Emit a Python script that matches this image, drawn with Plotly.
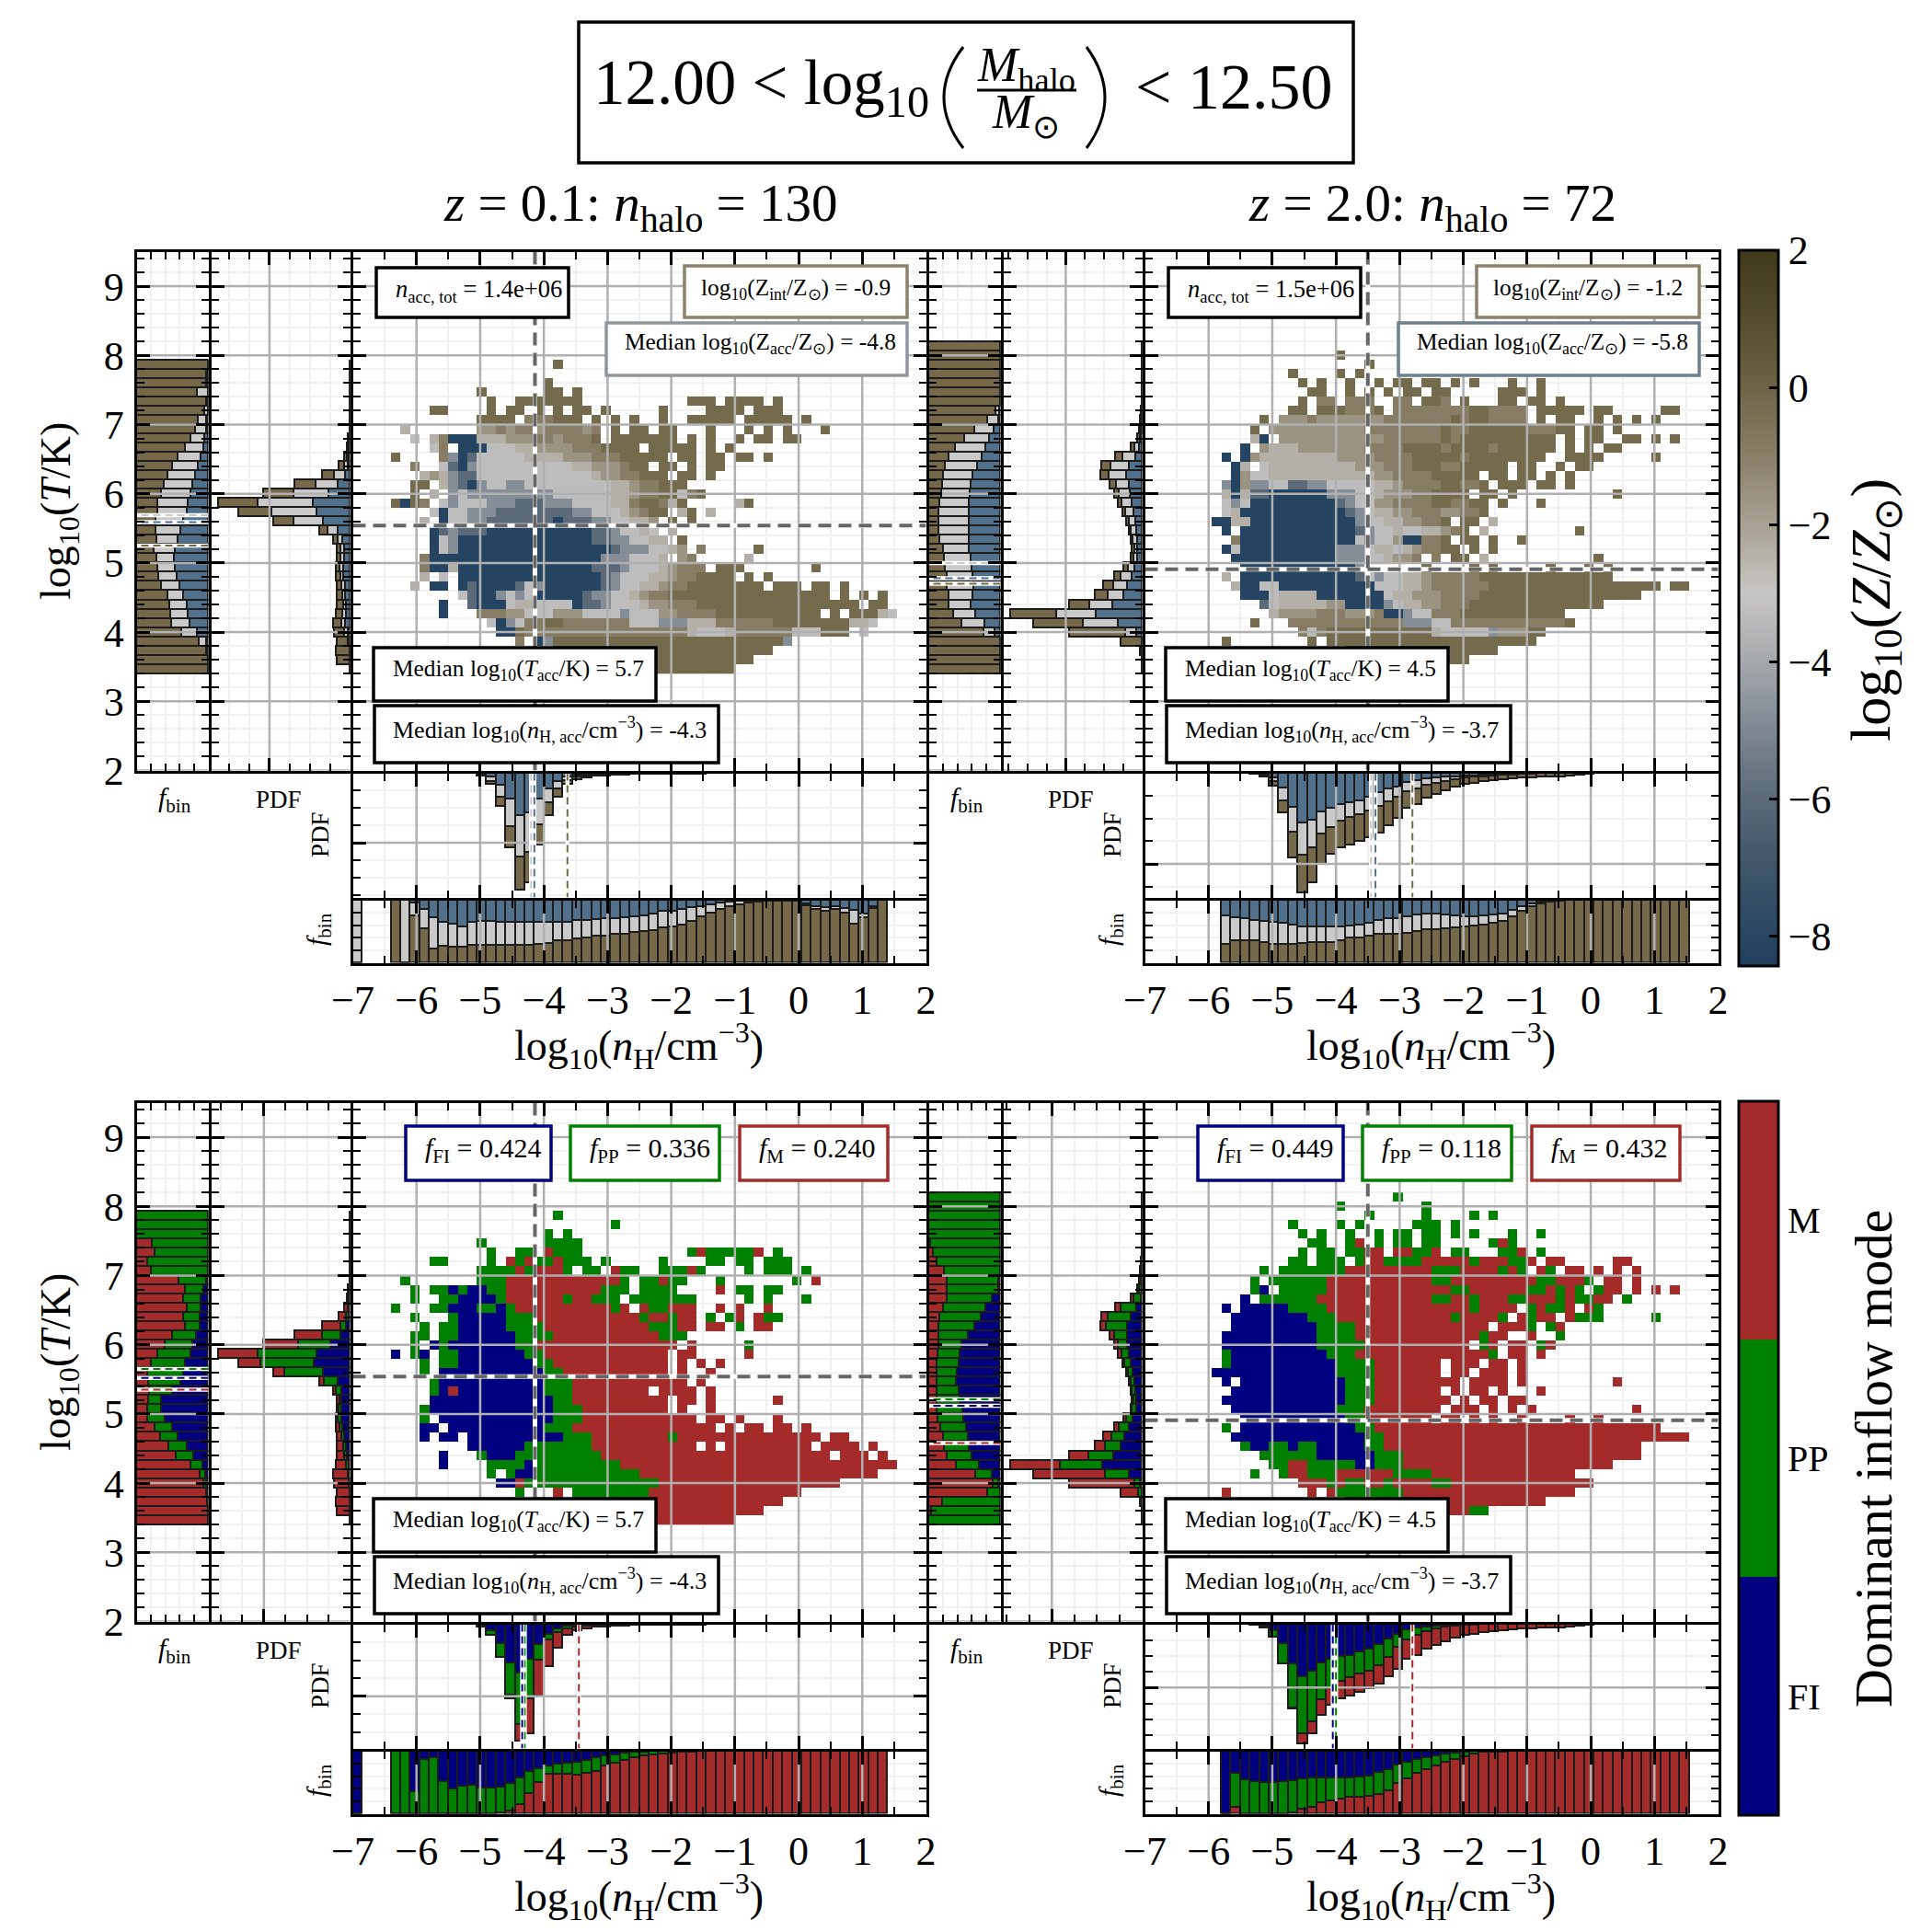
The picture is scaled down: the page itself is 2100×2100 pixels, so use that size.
import numpy as np
import plotly.graph_objects as go

FONT = "Liberation Serif"
W = 2100

# colours
OUTER_Z, MID_Z, INNER_Z = "#75694a", "#c9c9c9", "#50708c"
OUTER_M, MID_M, INNER_M = "#a52a2a", "#008000", "#000080"
Z_SCALE = [[-8.43, "#1f4060"], [-7, "#3d5668"], [-6, "#5a6a78"], [-5, "#7d8791"], [-4, "#a5a8ac"],
           [-3, "#c8c6c4"], [-2, "#a8a294"], [-1, "#8a8068"], [0, "#6e6445"], [1, "#544c2c"], [2, "#3f3a18"]]
Z_LEVELS = [-8.2, -6.0, -4.8, -3.3, -2.4, -1.6, -0.9, -0.2]
MODE_LEVELS = {"F": 0.5, "P": 1.5, "M": 2.5}

# 2D maps: rows top to bottom (logT 8.13 down to 3.47), columns from lognH = -6.4 in steps of 0.15
Z_LO = [
    "", "",
    ".................7", "", "................7",
    ".........7......77.7",
    "..........7..7777777...........777.7777.7",
    "....77....7.77.7.7.77.7.....7....7777.777",
    ".........7777.666777.7.7.7..7..77777.77777.7",
    ".4.......5565665666656.7.77.77...7...7.7.7...7",
    "..3.460004445556656667.7777777.7.7..7.77.77",
    "....36.0003334455556667777.77777.7.7",
    "7....620133333444455566677777.77.77.77.7",
    "..6..3102333333333344555677.77.7.77",
    "...45421133333333333345566777.77.7",
    "..77.42102332233333333344566777",
    "..7.4.232222222223333334456677367",
    "7076.32333222111222333344677647.....47",
    "....3033222111111112233345677.47.4",
    "...4.03322111111101112233445.7.7",
    "....012111000000000001123343.4",
    "....0320000000000000011223344.7",
    "....032000000000000000012223345.6.....7",
    "...60000000000000000002223334 56.....4",
    "...600400000000000000111233345666 777.......7",
    "...4.3.00000000000000012333445667777.7.7",
    "..4.00.01000013200000012334456677777777.777.77.7",
    ".......310023230000012233456677777777777777777.7.7.7",
    ".....0..10003443333011233345566677777777777777777.77",
    ".....0...666553335553333233355666677777777777.7.7774330077",
    "..........30236677666666633322244466666677777777443",
    "...........0076666666666666666643334666666333777.3",
    ".............6.027777777777777777777777772",
    ".................77777777777777777777777",
    "..................77777777777777777777",
    "......................77777777777777",
]
Z_HI = [
    "", "................7",
    "...................7",
    "...........7....7.7",
    "............7.7..7..7.77.77.7.7...7..7",
    ".............77..7.7.7.77.77.....777.7",
    "............7.66.666..66.776.7...77.77.7",
    "...........77.7776667.66666666776666.77777.77.....77",
    "........7.55565555555666666676776666.7.77..7.7.7.7",
    ".......7.55555555556666666676677777766677.77.7",
    ".......40.55555555555666666767777777777.7.77..77.7.7",
    "......0.5444555555566667777677776777777.7.7.77",
    "....0.05444444445555666677777677777777..7777.....7",
    ".....04.34444444445556667776677777.77..7.77",
    ".....05334444444444455666677777.77.77.7.7",
    "....2052233112233333445666677667.777.77.7",
    "....40411000000222334555667777.77.7..........7",
    "....3230000000001233556666776677.7...7",
    "....3400000000000123445566655667",
    "...0044000000000002334455667 77.4",
    "....0.000000000000123343344567.4.........7",
    ".....60000000000003233500667.77.7..7",
    "....0300000000002223443456677.7.7",
    ".....00000000000222334556.6.77.4...........7",
    "......0000000000002......7....7.7.....7...7.7",
    "....4.000000000000132334456666677777777777777",
    ".....400330000000000333445666666777777777777777777.77",
    "......000344440000000344555666677777777777777777",
    "........134444455000023445566677777777777777",
    ".........4555566655560023366677777777777",
    ".......7...666666666666222336666666666667",
    "............63677777777777433333255577",
    "....7........7.7777777777777777777777",
    ".................7777777777777777",
    "....................7777777777",
    "",
]
M_LO = [
    "", "",
    ".................P", ".......................P", "................P.P",
    ".........P......PPPP",
    "..........P..PP.MPPP...........PMPPPPPM.P",
    "....PP....P.MPMPPMPPP.P.....P....PP.PP.PPP",
    ".........PPPPMPMMMP.PP.MPP..PPPMP....P.PPP.P",
    ".P.......PPPMMMMMMMMMMMMP.PPMPP...P.......P.M",
    "..P.PPFPFFPPMMMMMMMMMMPPP.PPPP....M.PP.PP",
    "..P..PPFFFFPMMMMMMPMMPPP.PPPPPPP.....P.P...P",
    "P...PPFFFPPFPMMMMMMMMMMPM.MPPMMM..M.M..M",
    "..P...PFFFFFPPPMMMMMMMMMMMPMMPMM.P.PM.MPP",
    "...P.PPFFFFFPPPPMMMMMMMMMMMPPPMM.MM.P.MM",
    "..PP.PPFFFFFFPPPPMMMMMMMMMMMPPP...",
    "..P.FPFFFFFFFPPMMMMMMMMMMMMMMM.M.....P",
    "F.PF.PPFFFFFFFPPMMMMMMMMMMMMM.MM.....M",
    "...P.PPFFFFFFFFPPMMMMMMMMMMMM.M.M.M",
    "...P.FFFFFFFFFFFPPMMMMMMMMMMM.M..M",
    "....PFFFFFFFFFFFPPPMMMMMMMMMMMM.M",
    "....PFMFFFFFFFFFPPPMMMMMMMM.MMMM.M",
    "....FFFFFFFFFFFFFPPMMMMMMMMMM.MM.M......M",
    "...PFFFFFFFFFFFFFPPPMMMMMMMMM.M..M",
    "...P.FFFFFFFFFFFFPPPMMMMMMMMMMMM.MM.M...M",
    "...FF.FFFFFFFFFFPPPMMMMMMMMMMMMMMM.M.MM.MM.M",
    "...F.FF.FFFFFFFFFFPPPMMMMMMMMPMMMMMMMMMMMMMMM.MM",
    "........FFFFFFPPPPPPPMMMMMMMMMMM.M.MMMMMMMMM.MMMM.M",
    ".....F...PFFFPPPPPPPPPMMMMMMMMMMMMMMMMMMMMMMMM.MMM.M",
    ".....F....PPPPFPPPPPPPPPMMMMMMMMMMMMMMMMMMMMMMMMMMMMM",
    "..........P.PFFPPPPPPPPPPPMMMMMMMMMMMMMMMMMMMMMMMMM",
    "...........FFMPPPPPPPPPPPPPPMMMMMMMMMMMMMMMMMMM",
    ".............P...M.PPPPPPPPMMMMMMMMMMMMMMMM",
    ".................M.MPPPPPPMMMMMMMMMMMMMMM",
    ".....................MMMMMMMMMMMMMMMMMM",
    "......................MMMMMMMMMMMMMM",
]
M_HI = [
    "......................P", "................P........P",
    "...................P.....P....P.P",
    "...........P....P.P.....PPP.P",
    "............P.P..P..P.PP.PP.P.P...P..P",
    ".............PP..PM.P.PP.PP.....PMP",
    "............P.PP.PPMM.MMPPM.PP...PPM.P",
    "...........PP.PPP.PMMPPPPMMMMMPMMMPPM.MM.....MM",
    "........P.PPPPPPPMMMMMMMMMPPPMMMMPMP.MP.MM.M.M.M",
    ".......P.PPPPPPMMMMMMMMMMMPPMMMMMMMMMPPMMMP.MM.M",
    ".......PF.PPPPPMMMMMMMMMMMMMPPMMMMMMPPMPMP.PMM.M.M.M",
    "......F.PPPPPPMMMMMMMMMMMMPPMMPMMMPPMMMPMPPMM.P",
    "....F.FFFFFPPPPMMMMMMMMMMMMMMMPMMMM.PMPPM.MP",
    ".....FFFFFFFFPPPMMMMMMMMMMMMPMMMMP.MPMM.MPPP.....P",
    ".....FFFFFFFFFPPPPMMMMMMMMMMMMMM.MMMP.PM",
    "....FFFFFFFFFFPPPPMMMMMMMMMMMMMPMM..M..P",
    "....FFFFFFFFFFPPPPPMMMMMMMMMMM.PM.MM.PM",
    "....PFFFFFFFFFFPPPMMMMMMMMMMMMMMP.MM.M",
    "....PFFFFFFFFFFFPPPPMMMMMMM.MMM.MM.M",
    "...FFFFFFFFFFFFFPPPPMMMMMMM.MM.MMM.M",
    "....F.FFFFFFFFFFFPPPMMMMMMMMM.MMMM.M.........M",
    ".....FFFFFFFFFFFFPPPMMMMMMM.M.MM.M...M",
    "....FFFFFFFFFFFFFPPPMMMMMMMM.M.MM.MM",
    ".....FFFFFFFFFFFPPPMMMMMMMM.MMM.M.M.M..........M",
    "......FFFFFFFFFFFPPMMMMMMM.MM.M.M..M....M..M",
    "....P.FFFFFFFFFFFFPPMMMMMMMMMMMMMMMMMMMMMMMMMMMMMM",
    ".....FFFFFFFFFFFFFFPPMMMMMMMMMMMMMMMMMMMMMMMMMMMMMMMM",
    "......PFFPPFPPFFFFFPPMMMMMMMMMMMMMMMMMMMMMMMMMMM",
    "........PPPPPPFFFFFFPPPMMMMMMMMMMMMMMMMMMMMMMMMM",
    ".........PPMMPPPPPFFPPPMMMMMMMMMMMMMMMMMMMMMM",
    ".......P..PMMPPPMMMMMMPPPPMMMMMMMMMMMMMMM",
    "............MMMPMPPMMPMMMMPPMMMMMMMMMMMMMMM",
    "....M........M.MPPPPPPPMMMMMMMMMMMMMMMMMM",
    ".................PPPPPPMMMMMMMMMMMMMMM",
    "....................MMMMMMMMMMPP",
    "",
]

# lognH side panels: bins from -7.0 in steps of 0.15
PDF_N_LO = [0, 0, 0, 0, 0, 0, 0, 0, 0, 0, 0, 0, 0.3, 2, 9, 27, 60, 94, 88, 58, 34, 19, 9, 5, 3.5, 2.5, 2, 1.5,
            1.2, 1, 1, 1, 0.5, 0.4, 0.4, 0.4, 0.4, 0.3, 0.3, 0.3, 0.2, 0.2]
PDF_N_HI = [0, 0, 0, 0, 0, 0, 0, 0, 0, 0, 0, 0.5, 3, 10, 32, 68, 96, 88, 73, 65, 60, 58, 55, 52, 48, 42, 36, 28,
            25, 20, 17, 14, 11, 9, 8, 7, 6, 5, 4.5, 4, 4, 3, 3, 3, 2, 1.5, 0.5]
N_INNER_LO_Z = [0, None, None, None, 0, 0, 5, 15, 28, 35, 38, 42, 36, 34, 34, 35, 35, 36, 36, 36, 36, 35, 35, 33, 32,
                31, 30, 29, 28, 26, 25, 22, 18, 17, 15, 12, 10, 8, 5, 3, 2, 1, 1, 0, 0, 0, 2, 6, 10, 12, 10, 13, 16, 22, 10, 0]
N_MID_LO_Z = [100, None, None, None, 0, 100, 20, 30, 50, 38, 37, 33, 36, 38, 38, 37, 37, 36, 36, 35, 33, 30, 29, 29, 28,
              27, 28, 26, 26, 26, 25, 26, 26, 25, 24, 22, 17, 13, 10, 7, 5, 3, 2, 2, 1, 1, 0, 3, 5, 6, 5, 7, 22, 6, 3, 0]
N_INNER_HI_Z = [None, None, None, None, None, None, None, None, 25, 28, 30, 32, 34, 36, 37, 40, 42, 43, 43, 43, 42, 41, 40,
                37, 33, 30, 30, 26, 24, 22, 22, 23, 25, 26, 26, 25, 24, 22, 16, 10, 6, 3, 1, 1, 0, 0, 0, 0, 0, 0, 0, 0, 0, 0, 0, 0, 0]
N_MID_HI_Z = [None, None, None, None, None, None, None, None, 45, 37, 35, 33, 33, 34, 33, 30, 27, 25, 24, 24, 22, 20, 20,
              21, 22, 24, 24, 27, 26, 25, 25, 22, 19, 17, 15, 14, 13, 12, 10, 7, 5, 3, 2, 1, 0, 0, 0, 0, 0, 0, 0, 0, 0, 0, 0, 0, 0]
N_INNER_LO_M = [100, None, None, None, 0, 0, 64, 13, 10, 49, 61, 56, 55, 59, 59, 57, 52, 42, 32, 28, 23, 20, 19, 17, 14, 11,
                8, 6, 3, 2, 1, 0, 0, 0, 0, 0, 0, 0, 0, 0, 0, 0, 0, 0, 0, 0, 0, 0, 0, 0, 0, 0, 0, 0, 0, 0]
N_MID_LO_M = [0, None, None, None, 100, 100, 36, 87, 90, 51, 39, 44, 45, 41, 41, 41, 43, 44, 36, 22, 14, 17, 18, 21, 22, 22,
              15, 13, 11, 9, 7, 6, 4, 3, 2, 1, 0, 0, 0, 0, 0, 0, 0, 0, 0, 0, 0, 0, 0, 0, 0, 0, 0, 0, 0, 0]
N_INNER_HI_M = [None, None, None, None, None, None, None, None, 100, 35, 46, 49, 50, 50, 48, 47, 44, 43, 43, 43, 43, 43, 41,
                39, 34, 29, 22, 17, 13, 10, 7, 5, 3, 1, 0, 0, 0, 0, 0, 0, 0, 0, 0, 0, 0, 0, 0, 0, 0, 0, 0, 0, 0, 0, 0, 0, 0]
N_MID_HI_M = [None, None, None, None, None, None, None, None, 0, 55, 54, 51, 50, 50, 52, 52, 48, 46, 40, 37, 34, 31, 32,
              33, 35, 34, 30, 27, 23, 19, 16, 13, 10, 8, 5, 2, 1, 1, 0, 0, 0, 0, 0, 0, 0, 0, 0, 0, 0, 0, 0, 0, 0, 0, 0, 0, 0]

# logT side panels: top to bottom, logT 8.13 down to 3.47
PDF_T_LO = [0, 0, 0, 0, 0, 0, 0, 0, 0, 0, 1, 2, 4, 8, 20, 40, 62, 95, 80, 55, 22, 12, 9, 9, 10, 10, 9, 9, 9, 10, 12, 11, 9, 10, 9, 0]
PDF_T_HI = [0, 0, 0, 0, 0, 0, 0, 0.5, 1, 2, 3, 8, 19, 29, 30, 23, 20, 17, 14, 11, 9, 8, 7, 8, 13, 20, 28, 34, 52, 95, 78, 52, 15, 1, 0, 0]
T_INNER_LO_Z = [None, None, 0, 0, 0, 0, 0, 0, 2, 3, 5, 7, 10, 14, 18, 22, 25, 28, 30, 35, 38, 42, 46, 47, 46, 44, 40, 35, 30, 28, 26, 15, 3, 0, 0, 0]
T_MID_LO_Z = [None, None, 0, 2, 3, 15, 3, 5, 12, 15, 20, 25, 32, 36, 39, 40, 40, 42, 40, 38, 35, 30, 30, 25, 25, 25, 25, 22, 24, 24, 25, 22, 10, 3, 0, 0]
T_INNER_HI_Z = [0, 0, 0, 0, 0, 0, 0, 1, 3, 9, 15, 21, 26, 32, 38, 41, 42, 43, 44, 44, 44, 44, 43, 41, 40, 38, 37, 38, 41, 35, 22, 8, 0, 0, 0, 0]
T_MID_HI_Z = [0, 0, 0, 0, 0, 0, 0, 6, 15, 27, 35, 42, 46, 45, 42, 40, 40, 41, 42, 42, 42, 40, 37, 37, 37, 37, 37, 34, 31, 30, 32, 15, 0, 0, 0, 0]
T_INNER_LO_M = [None, None, 0, 0, 0, 0, 0, 0, 0, 3, 7, 10, 10, 12, 12, 17, 22, 25, 32, 35, 38, 50, 65, 65, 60, 50, 42, 30, 20, 8, 4, 2, 1, 0, 0, 0]
T_MID_LO_M = [None, None, 100, 100, 100, 78, 75, 85, 80, 38, 25, 24, 20, 22, 20, 33, 38, 45, 48, 50, 45, 32, 18, 20, 25, 25, 25, 25, 25, 17, 8, 4, 2, 1, 0, 0]
T_INNER_HI_M = [0, 0, 0, 0, 0, 0, 0, 0, 0, 2, 3, 11, 20, 27, 36, 45, 54, 56, 58, 60, 61, 58, 56, 52, 51, 48, 45, 44, 40, 30, 12, 3, 0, 0, 0, 0]
T_MID_HI_M = [100, 100, 100, 100, 100, 98, 93, 89, 78, 72, 71, 63, 60, 58, 50, 41, 32, 31, 30, 29, 28, 31, 33, 37, 36, 35, 34, 34, 34, 32, 22, 7, 18, 81, 96, 100]

# medians
MED_LINE_N = {"lo": -4.14, "hi": -3.5}
MED_LINE_T = {"lo": 5.54, "hi": 4.91}
MED_T_Z = {"lo": [5.69, 5.59, 5.25], "hi": [5.0, 4.78, 4.7]}
MED_N_Z = {"lo": [-4.2, -4.15, -3.63], "hi": [-3.45, -3.38, -2.8]}
MED_T_M = {"lo": [5.65, 5.52, 5.35], "hi": [5.21, 5.12, 4.58]}
MED_N_M = {"lo": [-4.3, -4.34, -3.45], "hi": [-4.0, -4.05, -2.8]}

TEXT = {
    "lo": {"nacc": "1.4e+06", "zint": "-0.9", "zacc": "-4.8", "tacc": "5.7", "nhacc": "-4.3",
           "fmodes": ["0.424", "0.336", "0.240"], "title": "<i>z</i> = 0.1: <i>n</i><sub>halo</sub> = 130"},
    "hi": {"nacc": "1.5e+06", "zint": "-1.2", "zacc": "-5.8", "tacc": "4.5", "nhacc": "-3.7",
           "fmodes": ["0.449", "0.118", "0.432"], "title": "<i>z</i> = 2.0: <i>n</i><sub>halo</sub> = 72"},
}
PDF_T_MAJOR = {("lo", "z"): 58, ("hi", "z"): 55, ("lo", "m"): 62, ("hi", "m"): 65}
PDF_N_MAJOR = {("lo", "z"): 56, ("hi", "z"): 73, ("lo", "m"): 58, ("hi", "m"): 51}

DT = 2 / 15
T_CENTERS = 8.2 - DT * (np.arange(36) + 0.5)
DN = 0.15
N_CENTERS = -7 + DN * (np.arange(60) + 0.5)

fig = go.Figure()
annotations = []
shapes = []
layout_axes = {}
axis_no = [0]
# the page keeps an 8 px body margin
OFF = 8
LINE = 3


def px(x):
    return (x - OFF) / W


def py(y):
    return 1 - (y - OFF) / W


def new_axes(x0, x1, y0, y1, xa, ya):
    axis_no[0] += 1
    n = axis_no[0]
    s = "" if n == 1 else str(n)
    base = dict(showline=True, linecolor="black", linewidth=LINE, mirror="ticks", zeroline=False,
                showgrid=False, ticks="inside", tickcolor="black", tickwidth=3, ticklen=14,
                showticklabels=False, tickfont=dict(family=FONT, size=44, color="black"))
    xd = dict(base)
    xd.update(xa)
    yd = dict(base)
    yd.update(ya)
    # axis lines sit outside the domain, inset so neighbouring frames share one line
    xd.update(domain=[px(x0 + LINE / 2), px(x1 - LINE / 2)], anchor="y" + s)
    yd.update(domain=[py(y1 - LINE / 2), py(y0 + LINE / 2)], anchor="x" + s)
    layout_axes["xaxis" + s] = xd
    layout_axes["yaxis" + s] = yd
    return "x" + s, "y" + s


def minor(d=None, vals=None):
    m = dict(ticks="inside", ticklen=8, tickwidth=2, tickcolor="black", showgrid=True,
             gridcolor="#f1f1f1", gridwidth=1.5)
    if d is not None:
        m["dtick"] = d
        m["tick0"] = 0
    if vals is not None:
        m["tickvals"] = vals
    return m


def grid_trace(xax, yax, xvals, yvals, xr, yr):
    xs, ys = [], []
    for v in xvals:
        xs += [v, v, None]
        ys += [yr[0], yr[1], None]
    for v in yvals:
        xs += [xr[0], xr[1], None]
        ys += [v, v, None]
    fig.add_trace(go.Scatter(x=xs, y=ys, xaxis=xax, yaxis=yax, mode="lines", hoverinfo="skip",
                             line=dict(color="#b0b0b0", width=2.5), showlegend=False))


def pad(seq, n):
    seq = list(seq)
    return seq + [None] * (n - len(seq))


def stacked(xax, yax, centers, inner, mid, total, colors, horizontal):
    n = len(centers)
    inner, mid = pad(inner, n), pad(mid, n)
    outer = [None if a is None or b is None else 100 - a - b for a, b in zip(inner, mid)]
    total = None if total is None else pad(total, n)
    for fr, col in zip([inner, mid, outer], colors):
        if total is None:
            vals = fr
        else:
            vals = [None if f is None or t is None else f * t / 100 for f, t in zip(fr, total)]
        kw = dict(x=vals, y=centers, orientation="h") if horizontal else dict(x=centers, y=vals)
        fig.add_trace(go.Bar(xaxis=xax, yaxis=yax, width=(DT if horizontal else DN), showlegend=False,
                             marker=dict(color=col, line=dict(color="#1c1c1c", width=1.2)), hoverinfo="skip", **kw))


def med_lines(xax, yax, vals, colors, horizontal):
    for v, c in zip(vals, colors):
        pts = dict(x=[0, 100], y=[v, v]) if horizontal else dict(x=[v, v], y=[0, 100])
        fig.add_trace(go.Scatter(xaxis=xax, yaxis=yax, mode="lines", hoverinfo="skip", showlegend=False,
                                 line=dict(color="white", width=4.5), **pts))
        fig.add_trace(go.Scatter(xaxis=xax, yaxis=yax, mode="lines", hoverinfo="skip", showlegend=False,
                                 line=dict(color=c, width=2, dash="8px,5px"), **pts))


def box(x0, x1, y0, y1, color):
    shapes.append(dict(type="rect", xref="paper", yref="paper", x0=px(x0), x1=px(x1), y0=py(y1), y1=py(y0),
                       fillcolor="white", line=dict(color=color, width=3.5), layer="above"))


def label(x, y, text, size=25.4, xanchor="left", angle=0):
    annotations.append(dict(x=px(x), y=py(y), xref="paper", yref="paper", text=text, showarrow=False,
                            xanchor=xanchor, yanchor="middle", textangle=angle,
                            font=dict(family=FONT, size=size, color="black")))


def paren(xa, xb, y0, y1):
    # curved bracket of the title fraction, xa is the tip and xb the bulge side
    path = f"M {px(xa)} {py(y0)} Q {px(2 * xb - xa)} {py((y0 + y1) / 2)} {px(xa)} {py(y1)}"
    shapes.append(dict(type="path", path=path, xref="paper", yref="paper", line=dict(color="black", width=3), layer="above"))


def block(x0, y0, era, kind):
    x_f, x_p, x_m, x_r = x0, x0 + 81, x0 + 235, x0 + 861
    y_t, y_b, y_pd, y_fb = y0, y0 + 567, y0 + 705, y0 + 776
    t_ax = dict(range=[2, 9.5], dtick=1, tick0=0, minor=minor(0.2))
    n_ax = dict(range=[-7, 2], dtick=1, tick0=0, minor=minor(0.5))
    tmajor = PDF_T_MAJOR[era, kind]
    nmajor = PDF_N_MAJOR[era, kind]
    is_z = kind == "z"
    colors = [INNER_Z, MID_Z, OUTER_Z] if is_z else [INNER_M, MID_M, OUTER_M]
    med_colors = [MID_Z, INNER_Z, OUTER_Z] if is_z else [MID_M, INNER_M, OUTER_M]
    lo = era == "lo"
    t_inner = (T_INNER_LO_Z if lo else T_INNER_HI_Z) if is_z else (T_INNER_LO_M if lo else T_INNER_HI_M)
    t_mid = (T_MID_LO_Z if lo else T_MID_HI_Z) if is_z else (T_MID_LO_M if lo else T_MID_HI_M)
    n_inner = (N_INNER_LO_Z if lo else N_INNER_HI_Z) if is_z else (N_INNER_LO_M if lo else N_INNER_HI_M)
    n_mid = (N_MID_LO_Z if lo else N_MID_HI_Z) if is_z else (N_MID_LO_M if lo else N_MID_HI_M)
    pdf_t = PDF_T_LO if lo else PDF_T_HI
    pdf_n = PDF_N_LO if lo else PDF_N_HI
    med_t = (MED_T_Z if is_z else MED_T_M)[era]
    med_n = (MED_N_Z if is_z else MED_N_M)[era]

    # fbin against logT
    xa, ya = new_axes(x_f, x_p, y_t, y_b, dict(range=[100, 0], tickvals=[], minor=minor(20)),
                      dict(showticklabels=x0 < 500, ticklabelstandoff=2, **t_ax))
    stacked(xa, ya, T_CENTERS, t_inner, t_mid, None, colors, True)
    grid_trace(xa, ya, [], range(2, 10), [100, 0], [2, 9.5])
    med_lines(xa, ya, med_t, med_colors, True)

    # PDF against logT
    xa, ya = new_axes(x_p, x_m, y_t, y_b, dict(range=[100, 0], tickvals=[tmajor], minor=minor(tmajor / 4)), dict(**t_ax))
    stacked(xa, ya, T_CENTERS, t_inner, t_mid, pdf_t, colors, True)
    grid_trace(xa, ya, [tmajor], range(2, 10), [100, 0], [2, 9.5])

    # main panel
    xa, ya = new_axes(x_m, x_r, y_t, y_b, dict(**n_ax), dict(**t_ax))
    src = {("lo", "z"): Z_LO, ("hi", "z"): Z_HI, ("lo", "m"): M_LO, ("hi", "m"): M_HI}[era, kind]
    grid_x = -6.4 + DN * (np.arange(53) + 0.5)
    z = []
    for row in src:
        vals = []
        for ch in row.ljust(53)[:53]:
            if ch in " .":
                vals.append(None)
            elif is_z:
                vals.append(Z_LEVELS[int(ch)])
            else:
                vals.append(MODE_LEVELS[ch])
        z.append(vals)
    fig.add_trace(go.Heatmap(x=grid_x, y=T_CENTERS, z=z, xaxis=xa, yaxis=ya, hoverongaps=False,
                             coloraxis="coloraxis" if is_z else "coloraxis2"))
    grid_trace(xa, ya, range(-6, 2), range(3, 10), [-7, 2], [2, 9.5])
    lx, ly = MED_LINE_N[era], MED_LINE_T[era]
    for c, w, d in [("white", 5, "solid"), ("#666666", 4, "14px,8px")]:
        fig.add_trace(go.Scatter(x=[lx, lx, None, -7, 2], y=[2, 9.5, None, ly, ly], xaxis=xa, yaxis=ya, mode="lines",
                                 hoverinfo="skip", showlegend=False, line=dict(color=c, width=w, dash=d)))

    # PDF against lognH
    xa, ya = new_axes(x_m, x_r, y_b, y_pd, dict(**n_ax), dict(range=[100, 0], tickvals=[nmajor], minor=minor(nmajor / 4)))
    stacked(xa, ya, N_CENTERS, n_inner, n_mid, pdf_n, colors, False)
    grid_trace(xa, ya, range(-6, 2), [nmajor], [-7, 2], [100, 0])
    med_lines(xa, ya, med_n, med_colors, False)

    # fbin against lognH
    xa, ya = new_axes(x_m, x_r, y_pd, y_fb, dict(showticklabels=True, ticklabelstandoff=0, **n_ax),
                      dict(range=[100, 0], tickvals=[], minor=minor(20)))
    stacked(xa, ya, N_CENTERS, n_inner, n_mid, None, colors, False)
    grid_trace(xa, ya, range(-6, 2), [], [-7, 2], [100, 0])

    # text
    txt = TEXT[era]
    label(x_f + 43, y_b + 30, "<i>f</i><sub>bin</sub>", 30, "center")
    label(x_p + 75, y_b + 30, "PDF", 27, "center")
    label(x_m - 34, y_b + 68, "PDF", 27, "center", -90)
    label(x_m - 36, y_pd + 33, "<i>f</i><sub>bin</sub>", 30, "center", -90)
    label(x_m + 312, y_fb + 88, "log<sub>10</sub>(<i>n</i><sub>H</sub>/cm<sup>−3</sup>)", 46, "center")
    if x0 < 500:
        label(64, y_t + 284, "log<sub>10</sub>(<i>T</i>/K)", 46, "center", -90)
    box(x_m + 24, x_m + 331, y_t + 432, y_t + 490, "black")
    box(x_m + 25, x_m + 399, y_t + 495, y_t + 557, "black")
    label(x_m + 43, y_t + 456, "Median log<sub>10</sub>(<i>T</i><sub>acc</sub>/K) = " + txt["tacc"])
    label(x_m + 43, y_t + 521, "Median log<sub>10</sub>(<i>n</i><sub>H, acc</sub>/cm<sup>−3</sup>) = " + txt["nhacc"], 26)
    if is_z:
        box(x_m + 27, x_m + 236, y_t + 19, y_t + 73, "black")
        box(x_m + 362, x_m + 604, y_t + 17, y_t + 73, "#8c826b")
        box(x_m + 277, x_m + 604, y_t + 79, y_t + 136, "#8f969c" if lo else "#6e7f8d")
        label(x_m + 46, y_t + 44, "<i>n</i><sub>acc, tot</sub> = " + txt["nacc"], 26.5)
        label(x_m + 378, y_t + 42, "log<sub>10</sub>(Z<sub>int</sub>/Z<sub>⊙</sub>) = " + txt["zint"])
        label(x_m + 295, y_t + 101, "Median log<sub>10</sub>(Z<sub>acc</sub>/Z<sub>⊙</sub>) = " + txt["zacc"])
    else:
        for i, (mode, col, bx, tx, bx2) in enumerate([("FI", INNER_M, 59, 78, 217), ("PP", MID_M, 238, 257, 400),
                                                      ("M", OUTER_M, 422, 441, 583)]):
            box(x_m + bx, x_m + bx2, y_t + 27, y_t + 86, col)
            label(x_m + tx, y_t + 53, f"<i>f</i><sub>{mode}</sub> = " + txt["fmodes"][i], 30)


block(147, 272, "lo", "z")
block(1008, 272, "hi", "z")
block(147, 1197, "lo", "m")
block(1008, 1197, "hi", "m")

# title box
box(629, 1471, 24, 177, "black")
label(643, 94, "12.00 &lt; log<sub>10</sub>", 69)
paren(1047, 1026, 51, 161)
label(1115, 74, "<i>M</i><sub>halo</sub>", 52, "center")
shapes.append(dict(type="line", xref="paper", yref="paper", x0=px(1062), x1=px(1170), y0=py(98), y1=py(98),
                   line=dict(color="black", width=3), layer="above"))
label(1115, 125, "<i>M</i><sub>⊙</sub>", 52, "center")
paren(1181, 1201, 51, 161)
label(1232, 94, "&lt; 12.50", 70)
label(696, 225, TEXT["lo"]["title"], 57, "center")
label(1557, 225, TEXT["hi"]["title"], 57, "center")
label(2037, 663, "log<sub>10</sub>(<i>Z</i>/<i>Z</i><sub>⊙</sub>)", 62, "center", -90)
label(2036, 1586, "Dominant inflow mode", 58, "center", -90)

fig.update_layout(
    width=W, height=W, margin=dict(l=0, r=0, t=0, b=0, autoexpand=False), paper_bgcolor="white", plot_bgcolor="white",
    barmode="stack", bargap=0, showlegend=False, annotations=annotations, shapes=shapes,
    font=dict(family=FONT, color="black"),
    coloraxis=dict(cmin=-8.43, cmax=2,
                   colorscale=[[(v + 8.43) / 10.43, c] for v, c in Z_SCALE],
                   colorbar=dict(x=px(1890), xanchor="left", y=py(1050), yanchor="bottom", len=778, lenmode="pixels",
                                 thickness=43, thicknessmode="pixels", xpad=0, ypad=0, outlinewidth=3, outlinecolor="black",
                                 ticks="inside", ticklen=11, tickwidth=3, tickcolor="black", tickvals=[-8, -6, -4, -2, 0, 2],
                                 tickfont=dict(family=FONT, size=44))),
    coloraxis2=dict(cmin=0, cmax=3,
                    colorscale=[[0, INNER_M], [1 / 3, INNER_M], [1 / 3, MID_M], [2 / 3, MID_M], [2 / 3, OUTER_M], [1, OUTER_M]],
                    colorbar=dict(x=px(1890), xanchor="left", y=py(1973), yanchor="bottom", len=776, lenmode="pixels",
                                  thickness=43, thicknessmode="pixels", xpad=0, ypad=0, outlinewidth=3, outlinecolor="black",
                                  ticks="", tickvals=[0.5, 1.5, 2.5], ticktext=["FI", "PP", "M"],
                                  tickfont=dict(family=FONT, size=40))),
    **layout_axes,
)

fig.write_html("out.html")
